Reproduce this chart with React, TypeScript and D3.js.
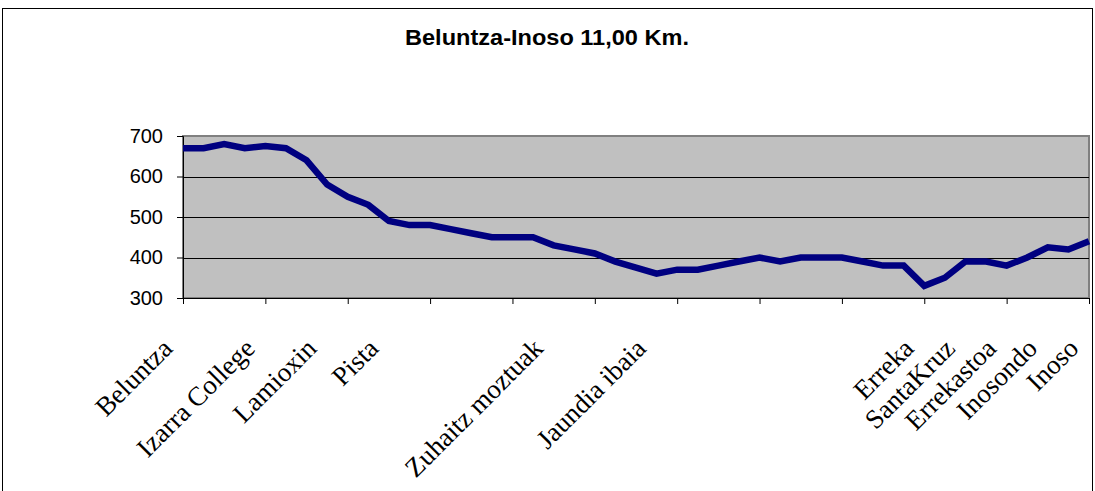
import React, { useEffect, useRef } from 'react'
import * as d3 from 'd3'

// elevation profile, one point every 250 m
const elevations = [
    670, 670, 680, 670, 675, 670, 640, 580, 550, 530,
    490, 480, 480, 470, 460, 450, 450, 450, 430, 420,
    410, 390, 375, 360, 370, 370, 380, 390, 400, 390,
    400, 400, 400, 390, 380, 380, 330, 350, 390, 390,
    380, 400, 425, 420, 440
]

// place names, keyed by point index
const placeIndex = [0, 4, 7, 10, 18, 23, 36, 38, 40, 42, 44]
const placeNames = [
    'Beluntza', 'Izarra College', 'Lamioxin', 'Pista', 'Zuhaitz moztuak',
    'Jaundia ibaia', 'Erreka', 'SantaKruz', 'Errekastoa', 'Inosondo', 'Inoso'
]

const yTicks = [300, 400, 500, 600, 700]
const title = 'Beluntza-Inoso 11,00 Km.'

export default function App() {
    const ref = useRef<SVGSVGElement>(null)

    useEffect(() => {
        const svg = d3.select(ref.current)
        svg.selectAll('*').remove() // clear so re-renders don't stack

        const width = 1095
        const height = 491
        const margin = { top: 136, right: 6, bottom: 193, left: 183 }

        const x = d3.scalePoint<number>()
            .domain(d3.range(elevations.length))
            .range([margin.left, width - margin.right])

        const y = d3.scaleLinear()
            .domain([300, 700])
            .range([height - margin.bottom, margin.top])

        // chart border
        svg.append('rect')
            .attr('x', 2.5).attr('y', 8.5)
            .attr('width', 1090).attr('height', 500)
            .attr('fill', 'white')
            .attr('stroke', 'black')

        svg.append('text')
            .attr('x', 547)
            .attr('y', 45)
            .attr('text-anchor', 'middle')
            .attr('font-family', 'Arial, "Liberation Sans", sans-serif')
            .attr('font-weight', 'bold')
            .attr('font-size', 22)
            .attr('textLength', 284)
            .attr('lengthAdjust', 'spacingAndGlyphs')
            .text(title)

        // plot area
        svg.append('rect')
            .attr('x', x(0)!)
            .attr('y', y(700))
            .attr('width', x(elevations.length - 1)! - x(0)!)
            .attr('height', y(300) - y(700))
            .attr('fill', '#c0c0c0')
            .attr('stroke', '#808080')
            .attr('stroke-width', 2)

        // gridlines
        svg.append('g')
            .selectAll('line')
            .data([400, 500, 600])
            .join('line')
            .attr('x1', x(0)!)
            .attr('x2', x(elevations.length - 1)!)
            .attr('y1', d => Math.round(y(d)) + 0.5)
            .attr('y2', d => Math.round(y(d)) + 0.5)
            .attr('stroke', 'black')

        // y axis
        const yAxis = svg.append('g')
            .attr('transform', `translate(${x(0)},0)`)
            .call(d3.axisLeft(y).tickValues(yTicks).tickSize(6).tickPadding(14))
        yAxis.selectAll('text')
            .attr('font-family', 'Arial, "Liberation Sans", sans-serif')
            .attr('font-size', 20)
            .attr('fill', 'black')
        yAxis.selectAll('line,path').attr('stroke', 'black')

        // x axis, a tick every km (4 points)
        const xAxis = svg.append('g')
            .attr('transform', `translate(0,${y(300)})`)
            .call(d3.axisBottom(x)
                .tickValues(d3.range(0, elevations.length, 4))
                .tickSize(6)
                .tickFormat(() => ''))
        xAxis.selectAll('line,path').attr('stroke', 'black')

        // place labels
        svg.append('g')
            .selectAll('text')
            .data(placeIndex)
            .join('text')
            .attr('transform', d => `translate(${x(d)! - 9},${350}) rotate(-45)`)
            .attr('text-anchor', 'end')
            .attr('font-family', '"Times New Roman", "Liberation Serif", serif')
            .attr('font-size', 27)
            .text((d, i) => placeNames[i])

        // profile line
        const line = d3.line<number>()
            .x((d, i) => x(i)!)
            .y(d => y(d))

        svg.append('path')
            .datum(elevations)
            .attr('d', line)
            .attr('fill', 'none')
            .attr('stroke', '#000080')
            .attr('stroke-width', 6.5)
            .attr('stroke-linejoin', 'miter')
    }, [])

    return (
        <svg ref={ref} width={1095} height={491}
            style={{ position: 'absolute', left: 0, top: 0 }} />
    )
}
